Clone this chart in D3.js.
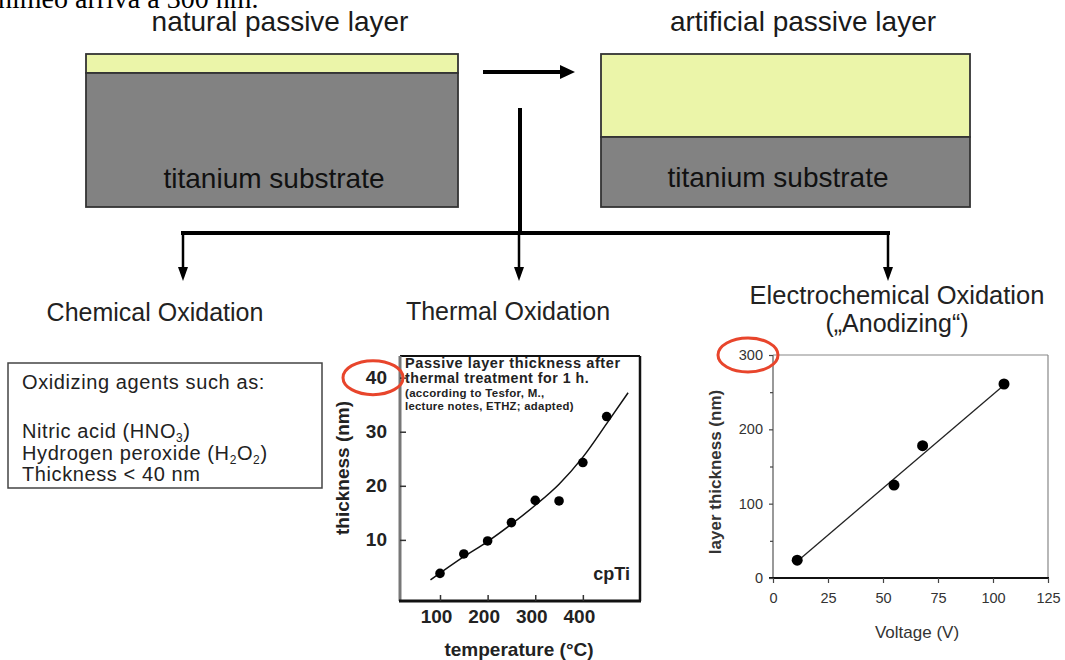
<!DOCTYPE html>
<html><head><meta charset="utf-8">
<script src="https://cdn.jsdelivr.net/npm/d3@7"></script>
<style>body{margin:0;background:#fff}svg{display:block}text{font-family:"Liberation Sans",Arial,sans-serif}</style>
</head><body>
<svg id="c" width="1065" height="660"></svg>
<script>
// ---- data ----
const thermalTemps = [100, 150, 200, 250, 300, 350, 400, 450];
const thermalThickness = [3.8, 7.4, 9.8, 13.2, 17.3, 17.2, 24.3, 32.8];
const thermalFitTemps = [80, 150, 200, 250, 300, 350, 400, 450, 495];
const thermalFitThickness = [2.6, 6.9, 9.7, 12.9, 16.4, 20.3, 25.3, 31.5, 37.2];
const thermalXTicks = [100, 200, 300, 400];
const thermalYTicks = [10, 20, 30, 40];

const anodVoltage = [11, 55, 68, 105];
const anodThickness = [24, 125, 178, 261];
const anodFitVoltage = [12, 106];
const anodFitThickness = [25, 262];
const anodXTicks = [0, 25, 50, 75, 100, 125];
const anodYTicks = [0, 100, 200, 300];
const anodYMinorTicks = [50, 150, 250];

const layerTitles = ["natural passive layer", "artificial passive layer"];
const substrateLabel = "titanium substrate";
const branchLabels = ["Chemical Oxidation", "Thermal Oxidation", "Electrochemical Oxidation"];
const chemLines = ["Oxidizing agents such as:", "Nitric acid (HNO|3|)", "Hydrogen peroxide (H|2|O|2|)", "Thickness < 40 nm"];
const thermalNote = ["Passive layer thickness after", "thermal treatment for 1 h.", "(according to Tesfor, M.,", "lecture notes, ETHZ; adapted)"];

const svg = d3.select("#c");

// top cut-off sentence
svg.append("text").attr("x", -2).attr("y", 8)
  .style("font-family", '"Liberation Serif","Times New Roman",serif').style("font-size", "28px").attr("fill", "#000")
  .text("nimeo arriva a 300 nm.");

// ---- layer boxes ----
const boxes = [
  {x0: 86, x1: 458, top: 54, split: 73, bottom: 207, title: layerTitles[0], tx: 280, lx: 274, ly: 188},
  {x0: 601, x1: 970, top: 54, split: 137, bottom: 207, title: layerTitles[1], tx: 803, lx: 778, ly: 187}
];
boxes.forEach(b => {
  svg.append("rect").attr("x", b.x0).attr("y", b.top).attr("width", b.x1 - b.x0).attr("height", b.split - b.top)
    .attr("fill", "#ebf5a9").attr("stroke", "#333").attr("stroke-width", 1.8);
  svg.append("rect").attr("x", b.x0).attr("y", b.split).attr("width", b.x1 - b.x0).attr("height", b.bottom - b.split)
    .attr("fill", "#828282").attr("stroke", "#333").attr("stroke-width", 1.8);
  svg.append("text").attr("x", b.tx).attr("y", 31).attr("text-anchor", "middle")
    .style("font-size", "28px").attr("fill", "#1a1a1a").text(b.title);
  svg.append("text").attr("x", b.lx).attr("y", b.ly).attr("text-anchor", "middle")
    .style("font-size", "28px").attr("fill", "#111").text(substrateLabel);
});

// arrows
const arrowG = svg.append("g").attr("fill", "#000").attr("stroke", "#000");
arrowG.append("line").attr("x1", 483).attr("y1", 72).attr("x2", 563).attr("y2", 72).attr("stroke-width", 4);
arrowG.append("path").attr("d", "M560,65 L575,72 L560,79 Z").attr("stroke", "none");
arrowG.append("line").attr("x1", 520).attr("y1", 108).attr("x2", 520).attr("y2", 235).attr("stroke-width", 4);
arrowG.append("line").attr("x1", 181).attr("y1", 233).attr("x2", 890).attr("y2", 233).attr("stroke-width", 4);
[183, 519, 888].forEach(x => {
  arrowG.append("line").attr("x1", x).attr("y1", 233).attr("x2", x).attr("y2", 270).attr("stroke-width", 2.5);
  arrowG.append("path").attr("d", `M${x - 5},267 L${x},281 L${x + 5},267 Z`).attr("stroke", "none");
});

// branch labels
svg.append("text").attr("x", 155).attr("y", 321).attr("text-anchor", "middle").style("font-size", "25px").attr("fill", "#222").text(branchLabels[0]);
svg.append("text").attr("x", 508).attr("y", 320).attr("text-anchor", "middle").style("font-size", "25px").attr("fill", "#222").text(branchLabels[1]);
svg.append("text").attr("x", 897).attr("y", 304).attr("text-anchor", "middle").style("font-size", "25.5px").attr("fill", "#222").text(branchLabels[2]);
svg.append("text").attr("x", 897).attr("y", 332).attr("text-anchor", "middle").style("font-size", "25px").attr("fill", "#222").text("(\u201EAnodizing\u201C)");

// ---- chemical box ----
svg.append("path").attr("d", "M8,363 L322,363 L322,488 L8,488 Z").attr("fill", "none").attr("stroke", "#444").attr("stroke-width", 1.5);
const chemY = [389, 438, 460, 481];
chemLines.forEach((ln, i) => {
  const t = svg.append("text").attr("x", 22).attr("y", chemY[i]).style("font-size", "20px").style("letter-spacing", "0.6px").attr("fill", "#222");
  ln.split("|").forEach((part, j) => {
    if (!part) return;
    const ts = t.append("tspan").text(part);
    if (j % 2 === 1) ts.attr("dy", 4).style("font-size", "12px");
    else if (j > 0) ts.attr("dy", -4);
  });
});

// ---- thermal chart ----
const tx = d3.scaleLinear().domain([16, 520]).range([400, 640]);
const ty = d3.scaleLinear().domain([-1.3, 44]).range([601, 356]);
const tg = svg.append("g");
tg.append("line").attr("x1", tx(520)).attr("x2", tx(520)).attr("y1", ty(44)).attr("y2", ty(-1.3)).attr("stroke", "#111").attr("stroke-width", 2.5);
tg.append("line").attr("x1", tx(16)).attr("x2", tx(520)).attr("y1", ty(44)).attr("y2", ty(44)).attr("stroke", "#111").attr("stroke-width", 2);
tg.append("line").attr("x1", tx(16)).attr("x2", tx(16)).attr("y1", ty(44)).attr("y2", ty(-1.3)).attr("stroke", "#777").attr("stroke-width", 3);
tg.append("line").attr("x1", tx(16) - 1).attr("x2", tx(520) + 1).attr("y1", ty(-1.3)).attr("y2", ty(-1.3)).attr("stroke", "#111").attr("stroke-width", 3);

const tyAxis = tg.append("g").attr("transform", `translate(${tx(16)},0)`)
  .call(d3.axisLeft(ty).tickValues(thermalYTicks).tickSize(-6).tickPadding(13).tickFormat(d3.format("d")));
const txAxis = tg.append("g").attr("transform", `translate(0,${ty(-1.3)})`)
  .call(d3.axisBottom(tx).tickValues(thermalXTicks).tickSize(-6).tickPadding(9).tickFormat(d3.format("d")));
[tyAxis, txAxis].forEach(a => {
  a.select(".domain").remove();
  a.selectAll(".tick line").attr("stroke", "#333").attr("stroke-width", 1.5);
  a.selectAll(".tick text").style("font-size", "19px").style("font-weight", "bold").style("font-family", '"Liberation Sans",Arial,sans-serif').attr("fill", "#222");
});
txAxis.selectAll(".tick text").attr("dx", -4);
tg.append("text").attr("transform", `translate(349,468) rotate(-90)`).attr("text-anchor", "middle")
  .style("font-size", "19px").style("font-weight", "bold").attr("fill", "#222").text("thickness (nm)");
tg.append("text").attr("x", 519).attr("y", 656).attr("text-anchor", "middle")
  .style("font-size", "19px").style("font-weight", "bold").attr("fill", "#222").text("temperature (\u00B0C)");

const noteY = [368, 383, 397, 410];
const noteSize = [14.5, 14.2, 11.5, 11.3];
const noteSpacing = [0.6, 0.5, 0.3, 0.3];
thermalNote.forEach((ln, i) => {
  tg.append("text").attr("x", 405).attr("y", noteY[i]).style("font-size", noteSize[i] + "px").style("letter-spacing", noteSpacing[i] + "px")
    .style("font-weight", "bold").attr("fill", "#222").text(ln);
});
tg.append("text").attr("x", 630).attr("y", 580).attr("text-anchor", "end").style("font-size", "18px").style("font-weight", "bold").attr("fill", "#222").text("cpTi");

const fitData = thermalFitTemps.map((t, i) => [t, thermalFitThickness[i]]);
tg.append("path").attr("d", d3.line().x(d => tx(d[0])).y(d => ty(d[1])).curve(d3.curveMonotoneX)(fitData))
  .attr("fill", "none").attr("stroke", "#111").attr("stroke-width", 1.5);
tg.selectAll("circle.tp").data(thermalTemps).join("circle").attr("class", "tp")
  .attr("cx", d => tx(d)).attr("cy", (d, i) => ty(thermalThickness[i])).attr("r", 4.8).attr("fill", "#000");

tg.append("ellipse").attr("cx", 373).attr("cy", ty(40)).attr("rx", 30).attr("ry", 17)
  .attr("fill", "none").attr("stroke", "#e8452c").attr("stroke-width", 3);

// ---- anodizing chart ----
const ax = d3.scaleLinear().domain([0, 125]).range([773, 1048]);
const ay = d3.scaleLinear().domain([0, 300]).range([578, 355]);
const ag = svg.append("g");
ag.append("line").attr("x1", ax(0)).attr("x2", ax(125)).attr("y1", ay(300)).attr("y2", ay(300)).attr("stroke", "#888").attr("stroke-width", 1.2);
ag.append("line").attr("x1", ax(125)).attr("x2", ax(125)).attr("y1", ay(300)).attr("y2", ay(0)).attr("stroke", "#888").attr("stroke-width", 1.2);
ag.append("line").attr("x1", ax(0)).attr("x2", ax(0)).attr("y1", ay(300)).attr("y2", ay(0)).attr("stroke", "#777").attr("stroke-width", 1.5);
ag.append("line").attr("x1", ax(0) - 4).attr("x2", ax(125) + 1).attr("y1", ay(0)).attr("y2", ay(0)).attr("stroke", "#111").attr("stroke-width", 2.2);

const ayAxis = ag.append("g").attr("transform", `translate(${ax(0)},0)`)
  .call(d3.axisLeft(ay).tickValues(anodYTicks).tickSize(4).tickPadding(6).tickFormat(d3.format("d")));
const ayMinor = ag.append("g").attr("transform", `translate(${ax(0)},0)`)
  .call(d3.axisLeft(ay).tickValues(anodYMinorTicks).tickSize(3).tickFormat(""));
const axAxis = ag.append("g").attr("transform", `translate(0,${ay(0)})`)
  .call(d3.axisBottom(ax).tickValues(anodXTicks).tickSize(5).tickPadding(10).tickFormat(d3.format("d")));
[ayAxis, ayMinor, axAxis].forEach(a => {
  a.select(".domain").remove();
  a.selectAll(".tick line").attr("stroke", "#444").attr("stroke-width", 1.2);
  a.selectAll(".tick text").style("font-size", "14.5px").style("font-family", '"Liberation Sans",Arial,sans-serif').attr("fill", "#333");
});
ag.append("text").attr("transform", `translate(721,472) rotate(-90)`).attr("text-anchor", "middle")
  .style("font-size", "17px").style("font-weight", "bold").attr("fill", "#333").text("layer thickness (nm)");
ag.append("text").attr("x", 917).attr("y", 638).attr("text-anchor", "middle")
  .style("font-size", "17px").attr("fill", "#333").text("Voltage (V)");

ag.append("line").attr("x1", ax(anodFitVoltage[0])).attr("y1", ay(anodFitThickness[0]))
  .attr("x2", ax(anodFitVoltage[1])).attr("y2", ay(anodFitThickness[1])).attr("stroke", "#222").attr("stroke-width", 1.3);
ag.selectAll("circle.ap").data(anodVoltage).join("circle").attr("class", "ap")
  .attr("cx", d => ax(d)).attr("cy", (d, i) => ay(anodThickness[i])).attr("r", 5.5).attr("fill", "#000");

ag.append("ellipse").attr("cx", 748).attr("cy", ay(300)).attr("rx", 30).attr("ry", 17)
  .attr("fill", "none").attr("stroke", "#e8452c").attr("stroke-width", 3);
</script>
</body></html>
